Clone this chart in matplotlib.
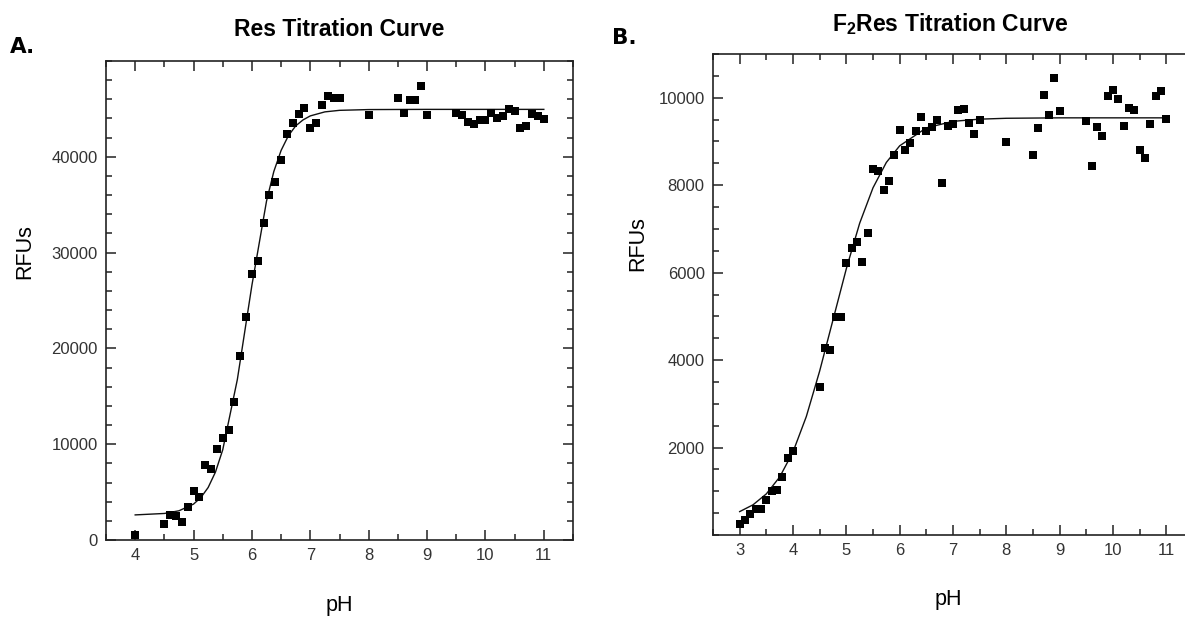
import matplotlib
matplotlib.use("Agg")
import matplotlib.pyplot as plt
from matplotlib.ticker import MultipleLocator, FixedLocator

plt.rcParams['font.family'] = ['Liberation Sans', 'DejaVu Sans']
plt.rcParams['mathtext.fontset'] = 'custom'
plt.rcParams['mathtext.bf'] = 'Liberation Sans:bold'
plt.rcParams['mathtext.rm'] = 'Liberation Sans:bold'
plt.rcParams['mathtext.default'] = 'bf'

# panel A: Res
ph_a = [4.0, 4.5, 4.6, 4.7, 4.8, 4.9, 5.0, 5.1, 5.2, 5.3, 5.4, 5.5, 5.6, 5.7, 5.8,
        5.9, 6.0, 6.1, 6.2, 6.3, 6.4, 6.5, 6.6, 6.7, 6.8, 6.9, 7.0, 7.1, 7.2, 7.3,
        7.4, 7.5, 8.0, 8.5, 8.6, 8.7, 8.8, 8.9, 9.0, 9.5, 9.6, 9.7, 9.8, 9.9, 10.0,
        10.1, 10.2, 10.3, 10.4, 10.5, 10.6, 10.7, 10.8, 10.9, 11.0]
rfu_a = [520, 1630, 2570, 2500, 1910, 3400, 5070, 4510, 7880, 7400, 9510, 10660,
         11490, 14370, 19240, 23260, 27740, 29100, 33120, 36040, 37330, 39650,
         42430, 43540, 44510, 45070, 42990, 43540, 45380, 46320, 46180, 46180,
         44400, 46180, 44550, 45900, 45900, 47430, 44400, 44620, 44370, 43680,
         43400, 43820, 43820, 44620, 44100, 44240, 44970, 44790, 42990, 43260,
         44440, 44270, 43960]
fit_ph_a = [4.0, 4.5, 4.75, 5.0, 5.125, 5.25, 5.375, 5.5, 5.75, 6.0, 6.25, 6.375,
            6.5, 6.625, 6.75, 6.875, 7.0, 7.25, 7.5, 8.0, 9.0, 10.0, 11.0]
fit_rfu_a = [2620, 2770, 3050, 3750, 4430, 5480, 7090, 9420, 16750, 26610, 35380,
             38470, 40670, 42210, 43230, 43850, 44270, 44690, 44850, 44930, 44950,
             44950, 44950]

# panel B: F2Res
ph_b = [3.0, 3.1, 3.2, 3.3, 3.4, 3.5, 3.6, 3.7, 3.8, 3.9, 4.0,
        4.5, 4.6, 4.7, 4.8, 4.9, 5.0, 5.1, 5.2, 5.3, 5.4, 5.5, 5.6, 5.7, 5.8, 5.9,
        6.0, 6.1, 6.2, 6.3, 6.4, 6.5, 6.6, 6.7, 6.8, 6.9, 7.0, 7.1, 7.2, 7.3, 7.4,
        7.5, 8.0, 8.5, 8.6, 8.7, 8.8, 8.9, 9.0, 9.5, 9.6, 9.7, 9.8, 9.9, 10.0, 10.1,
        10.2, 10.3, 10.4, 10.5, 10.6, 10.7, 10.8, 10.9, 11.0]
rfu_b = [260, 340, 470, 600, 590, 790, 1000, 1030, 1330, 1760, 1930,
         3380, 4270, 4230, 4990, 4990, 6210, 6570, 6700, 6250, 6910, 8360, 8320,
         7890, 8100, 8680, 9260, 8800, 8960, 9240, 9570, 9240, 9340, 9480, 8040,
         9360, 9390, 9720, 9740, 9420, 9180, 9480, 8990, 8680, 9300, 10070, 9610,
         10460, 9700, 9470, 8440, 9330, 9120, 10030, 10180, 9970, 9360, 9760, 9730,
         8810, 8630, 9390, 10030, 10150, 9510]
fit_ph_b = [3.0, 3.25, 3.5, 3.75, 4.0, 4.25, 4.5, 4.75, 5.0, 5.25, 5.5, 5.75, 6.0,
            6.5, 7.0, 7.5, 8.0, 9.0, 10.0, 11.0]
fit_rfu_b = [535, 690, 940, 1325, 1900, 2710, 3750, 4920, 6090, 7130, 7940, 8520,
             8900, 9310, 9460, 9510, 9530, 9540, 9540, 9540]

W, H = 1185, 617
fig = plt.figure(figsize=(W / 100, H / 100), dpi=100)

ax1 = fig.add_axes([106 / W, (H - 540) / H, 467 / W, 479 / H])
ax2 = fig.add_axes([713 / W, (H - 535) / H, 480 / W, 481 / H])

tick_col = '#333333'


def style(ax, right=True):
    for s in ax.spines.values():
        s.set_linewidth(1.2)
        s.set_color('#222222')
    ax.tick_params(which='both', direction='in', top=True, right=right,
                   colors='#222222', labelcolor=tick_col, labelsize=12, width=1.1)
    ax.tick_params(which='major', length=7, pad=6)
    ax.tick_params(which='minor', length=4)


# A
ax1.plot(fit_ph_a, fit_rfu_a, color='#111111', lw=1.0)
ax1.plot(ph_a, rfu_a, 's', color='black', ms=5.8, mew=0)
ax1.set_xlim(3.5, 11.5)
ax1.set_ylim(0, 50000)
ax1.xaxis.set_major_locator(MultipleLocator(1))
ax1.xaxis.set_minor_locator(MultipleLocator(0.5))
ax1.yaxis.set_major_locator(FixedLocator([0, 10000, 20000, 30000, 40000]))
ax1.yaxis.set_minor_locator(MultipleLocator(2000))
style(ax1)
ax1.set_xlabel('pH', fontsize=15.5, va='center')
ax1.xaxis.set_label_coords(0.5, -(605 - 540) / 479)
ax1.set_ylabel('RFUs', fontsize=15.5, va='center')
ax1.yaxis.set_label_coords((25 - 106) / 467, (540 - 252) / 479)

# B
ax2.plot(fit_ph_b, fit_rfu_b, color='#111111', lw=1.0)
ax2.plot(ph_b, rfu_b, 's', color='black', ms=5.8, mew=0)
ax2.set_xlim(2.5, 11.5)
ax2.set_ylim(0, 11000)
ax2.xaxis.set_major_locator(MultipleLocator(1))
ax2.xaxis.set_minor_locator(MultipleLocator(0.5))
ax2.yaxis.set_major_locator(FixedLocator([2000, 4000, 6000, 8000, 10000]))
ax2.yaxis.set_minor_locator(MultipleLocator(500))
style(ax2, right=False)
ax2.set_xlabel('pH', fontsize=15.5, va='center')
ax2.xaxis.set_label_coords((948 - 713) / 480, -(600 - 535) / 481)
ax2.set_ylabel('RFUs', fontsize=15.5, va='center')
ax2.yaxis.set_label_coords((638 - 713) / 480, (535 - 244) / 481)

# titles and panel letters
fig.text(339 / W, 1 - 30 / H, 'Res Titration Curve', ha='center', va='center',
         fontsize=16.5, fontweight='bold')
fig.text(950 / W, 1 - 24 / H, r'F$_2$Res Titration Curve', ha='center',
         va='center', fontsize=16.5, fontweight='bold')
fig.text(10 / W, 1 - 47 / H, 'A.', ha='left', va='center', fontsize=15.5,
         fontweight='bold', family='DejaVu Sans')
fig.text(612 / W, 1 - 38 / H, 'B.', ha='left', va='center', fontsize=15.5,
         fontweight='bold', family='DejaVu Sans')

fig.savefig('out.png', dpi=100)
